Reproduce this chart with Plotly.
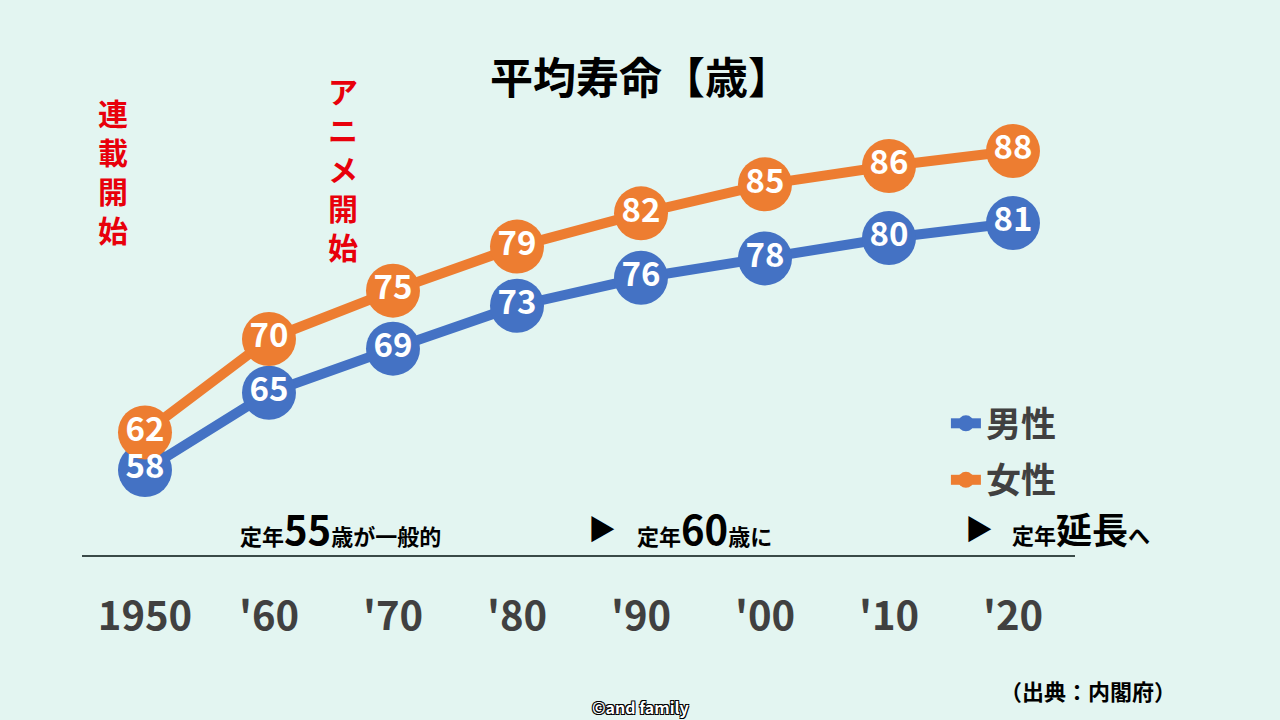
import plotly.graph_objects as go

years = [1950, 1960, 1970, 1980, 1990, 2000, 2010, 2020]
tick_labels = ["1950", "'60", "'70", "'80", "'90", "'00", "'10", "'20"]
male = [58.0, 65.2, 69.3, 73.3, 75.9, 77.7, 79.6, 81.0]
female = [61.5, 70.2, 74.7, 78.8, 81.9, 84.6, 86.3, 87.7]
series_names = ["男性", "女性"]
colors = ["#4472C4", "#ED7D31"]

BG = "#E3F5F1"
FONT = "Noto Sans CJK JP"

fig = go.Figure()
for name, vals, col in zip(series_names, [male, female], colors):
    fig.add_trace(go.Scatter(
        x=years, y=vals, name=name, legendgroup=name, mode="lines+markers",
        line=dict(color=col, width=10),
        marker=dict(size=54, color=col),
        hoverinfo="skip",
    ))
for name, vals in zip(series_names, [male, female]):
    fig.add_trace(go.Scatter(
        x=years, y=vals, mode="text", showlegend=False,
        texttemplate="%{y:.0f}", textposition="middle center",
        textfont=dict(family=FONT, size=33, color="white", weight="bold"),
        hoverinfo="skip",
    ))

fig.update_layout(
    width=1280, height=720,
    paper_bgcolor=BG, plot_bgcolor=BG,
    margin=dict(l=82, r=205, t=0, b=165),
    font=dict(family=FONT),
    xaxis=dict(
        range=[1944.92, 2025.0], showgrid=False, zeroline=False,
        showline=True, linecolor="#3A4A48", linewidth=2,
        tickvals=years, ticktext=tick_labels, ticks="",
        tickfont=dict(family=FONT, size=40, color="#404040", weight="bold"),
        ticklabelstandoff=25,
    ),
    yaxis=dict(range=[50.09, 101.76], visible=False),
    legend=dict(
        x=0.87, y=0.29, xanchor="left", yanchor="top",
        bgcolor="rgba(0,0,0,0)", itemsizing="trace", traceorder="grouped",
        font=dict(family=FONT, size=35, color="#404040", weight="bold"),
        tracegroupgap=8, itemclick=False,
    ),
    showlegend=True,
)

def ann(text, x, y, size, color="black", xanchor="center", yanchor="middle", **kw):
    fig.add_annotation(text=text, x=x, y=y, xref="paper", yref="paper",
                       xanchor=xanchor, yanchor=yanchor, showarrow=False,
                       font=dict(family=FONT, size=size, color=color, weight="bold", **kw))

def px(xp):
    return (xp - 82) / 993

def py(yp):
    return (555 - yp) / 555

ann("平均寿命【歳】", px(640), py(75), 43)

ann("<br>".join("連載開始"), px(113), py(171), 30, color="#E8000B")
ann("<br>".join("アニメ開始"), px(343), py(168), 30, color="#E8000B")

ann("定年<span style='font-size:40px'>55</span>歳が一般的", px(340), py(528), 22)
ann("▶", px(602), py(528), 28)
ann("定年<span style='font-size:40px'>60</span>歳に", px(704), py(528), 22)
ann("▶", px(979), py(528), 28)
ann("定年<span style='font-size:36px'>延長</span>へ", px(1081), py(528), 22)

ann("（出典：内閣府）", px(1178), py(690), 22, xanchor="right")
ann("©and family", px(640), py(707), 16, color="white",
    shadow="-1px -1px 0 #000, 1px -1px 0 #000, -1px 1px 0 #000, 1px 1px 0 #000")

fig.write_html("out.html", config={"displayModeBar": False},
               post_script="document.body.style.margin='0px';")
